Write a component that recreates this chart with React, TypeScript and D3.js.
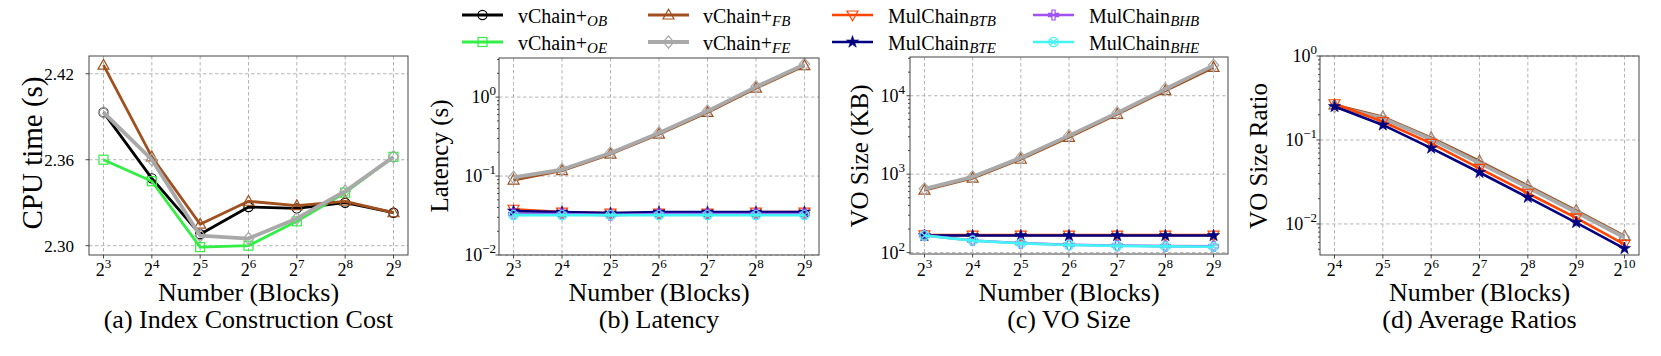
import React from 'react';
import * as d3 from 'd3';

const FONT = "'Liberation Serif','Times New Roman',Times,serif";

// x values (number of blocks)
const blocksABC = [8, 16, 32, 64, 128, 256, 512];
const blocksD = [16, 32, 64, 128, 256, 512, 1024];

// (a) index construction cost, CPU time (s)
const cpuOB = [2.393, 2.347, 2.308, 2.327, 2.326, 2.330, 2.323];
const cpuOE = [2.360, 2.345, 2.299, 2.300, 2.317, 2.337, 2.362];
const cpuFB = [2.426, 2.362, 2.315, 2.331, 2.328, 2.331, 2.323];
const cpuFE = [2.393, 2.360, 2.307, 2.305, 2.319, 2.338, 2.362];

// (b) latency (s)
const latFB = [0.089, 0.117, 0.190, 0.340, 0.640, 1.30, 2.50];
const latFE = [0.096, 0.121, 0.196, 0.352, 0.665, 1.35, 2.60];
const latBTB = [0.038, 0.035, 0.034, 0.034, 0.034, 0.035, 0.035];
const latBTE = [0.036, 0.035, 0.034, 0.035, 0.035, 0.035, 0.035];
const latBHB = [0.033, 0.033, 0.032, 0.033, 0.033, 0.033, 0.033];
const latBHE = [0.032, 0.032, 0.032, 0.032, 0.032, 0.032, 0.032];

// (c) VO size (KB)
const voFB = [625, 890, 1550, 2950, 5800, 11600, 23000];
const voFE = [650, 925, 1620, 3100, 6050, 12200, 24400];
const voBTB = [168, 167, 167, 167, 167, 167, 167];
const voBTE = [165, 165, 165, 165, 165, 165, 165];
const voBHB = [166, 143, 132, 126, 123, 121, 120];
const voBHE = [165, 142, 131, 125, 122, 120, 119];

// (d) average VO size ratio
const ratioFB = [0.262, 0.188, 0.106, 0.056, 0.0285, 0.0145, 0.0072];
const ratioFE = [0.250, 0.182, 0.102, 0.053, 0.0272, 0.0138, 0.0069];
const ratioBTB = [0.270, 0.165, 0.091, 0.046, 0.0232, 0.0118, 0.0057];
const ratioBTE = [0.250, 0.151, 0.080, 0.041, 0.0207, 0.0104, 0.0051];

const STYLE = {
  OB: { base: 'vChain+', sub: 'OB', color: '#000000', marker: 'circle', width: 2.8 },
  OE: { base: 'vChain+', sub: 'OE', color: '#33ee44', marker: 'square', width: 2.8 },
  FB: { base: 'vChain+', sub: 'FB', color: '#a0501e', marker: 'triup', width: 2.8 },
  FE: { base: 'vChain+', sub: 'FE', color: '#a9a9a9', marker: 'diamond', width: 3.8 },
  BTB: { base: 'MulChain', sub: 'BTB', color: '#ff4500', marker: 'tridown', width: 2.6 },
  BTE: { base: 'MulChain', sub: 'BTE', color: '#000080', marker: 'star', width: 2.6 },
  BHB: { base: 'MulChain', sub: 'BHB', color: '#a052f5', marker: 'plus', width: 2.6 },
  BHE: { base: 'MulChain', sub: 'BHE', color: '#44f4f4', marker: 'xcircle', width: 2.6 },
};

const legendOrder = [['OB', 'OE'], ['FB', 'FE'], ['BTB', 'BTE'], ['BHB', 'BHE']];
const legendCols = [{ l0: 462, l1: 503, t: 518 }, { l0: 648, l1: 689, t: 703 }, { l0: 832, l1: 873, t: 888 }, { l0: 1033, l1: 1074, t: 1089 }];

function Marker({ type, x, y, color }) {
  const sw = 1.2;
  switch (type) {
    case 'circle':
      return <circle cx={x} cy={y} r={4.6} fill="none" stroke={color} strokeWidth={sw} />;
    case 'square':
      return <rect x={x - 4.5} y={y - 4.5} width={9} height={9} fill="none" stroke={color} strokeWidth={sw} />;
    case 'triup':
      return <path d={`M${x},${y - 5.8}L${x + 5.5},${y + 4}L${x - 5.5},${y + 4}Z`} fill="none" stroke={color} strokeWidth={sw} />;
    case 'tridown':
      return <path d={`M${x},${y + 5.8}L${x + 5.5},${y - 4}L${x - 5.5},${y - 4}Z`} fill="none" stroke={color} strokeWidth={sw} />;
    case 'diamond':
      return <path d={`M${x},${y - 6.2}L${x + 5.2},${y}L${x},${y + 6.2}L${x - 5.2},${y}Z`} fill="none" stroke={color} strokeWidth={sw} />;
    case 'star':
      return <path d={d3.symbol(d3.symbolStar, 46)()} transform={`translate(${x},${y})`} fill={color} stroke={color} strokeWidth={0.6} />;
    case 'plus': {
      const a = 1.6, b = 5;
      const d = `M${x - a},${y - b}H${x + a}V${y - a}H${x + b}V${y + a}H${x + a}V${y + b}H${x - a}V${y + a}H${x - b}V${y - a}H${x - a}Z`;
      return <path d={d} fill="none" stroke={color} strokeWidth={sw} />;
    }
    case 'xcircle':
      return (
        <g fill="none" stroke={color} strokeWidth={sw}>
          <circle cx={x} cy={y} r={4.6} />
          <path d={`M${x - 3},${y - 3}L${x + 3},${y + 3}M${x + 3},${y - 3}L${x - 3},${y + 3}`} />
        </g>
      );
    default:
      return null;
  }
}

function Pow({ base, exp, size, supSize, rise }) {
  return (
    <>
      {base}
      <tspan dy={-rise} fontSize={supSize}>{exp}</tspan>
    </>
  );
}

function Panel({ p }) {
  const { x0, x1, y0, y1 } = p;
  const x = d3.scaleLog().base(2).domain([2 ** p.xLo, 2 ** p.xHi]).range([x0, x1]);
  const y = p.log
    ? d3.scaleLog().domain(p.yDomain).range([y1, y0])
    : d3.scaleLinear().domain(p.yDomain).range([y1, y0]);
  const line = d3.line().x((d) => x(d[0])).y((d) => y(d[1]));

  const minor = [];
  if (p.log) {
    const [lo, hi] = p.yDomain;
    for (let e = Math.floor(Math.log10(lo)); e <= Math.ceil(Math.log10(hi)); e++) {
      for (let k = 2; k <= 9; k++) {
        const v = k * 10 ** e;
        if (v >= lo && v <= hi) minor.push(v);
      }
    }
  }

  return (
    <g fontFamily={FONT}>
      {/* grid */}
      <g stroke="#b4b4b4" strokeWidth={1} strokeDasharray="3.5,2.5">
        {p.xTicks.map((t) => (
          <line key={'gx' + t} x1={x(2 ** t)} x2={x(2 ** t)} y1={y0} y2={y1} />
        ))}
        {p.yTicks.map((t) => (
          <line key={'gy' + t.v} x1={x0} x2={x1} y1={y(t.v)} y2={y(t.v)} />
        ))}
      </g>
      {/* series */}
      {p.series.map((s) => {
        const st = STYLE[s.key];
        const pts = p.xs.map((v, i) => [v, s.values[i]]);
        return (
          <g key={s.key}>
            <path d={line(pts)} fill="none" stroke={st.color} strokeWidth={st.width} strokeLinejoin="round" />
            {pts.map((d, i) => (
              <Marker key={i} type={st.marker} x={x(d[0])} y={y(d[1])} color={st.color} />
            ))}
          </g>
        );
      })}
      {/* frame */}
      <rect x={x0} y={y0} width={x1 - x0} height={y1 - y0} fill="none" stroke="#444" strokeWidth={1} />
      {/* ticks */}
      <g stroke="#333" strokeWidth={0.9}>
        {p.xTicks.map((t) => (
          <line key={'tx' + t} x1={x(2 ** t)} x2={x(2 ** t)} y1={y1} y2={y1 + 3.5} />
        ))}
        {p.yTicks.map((t) => (
          <line key={'ty' + t.v} x1={x0 - 3.5} x2={x0} y1={y(t.v)} y2={y(t.v)} />
        ))}
        {minor.map((v) => (
          <line key={'mt' + v} x1={x0 - 2} x2={x0} y1={y(v)} y2={y(v)} />
        ))}
      </g>
      {/* tick labels */}
      <g fill="#000">
        {p.xTicks.map((t) => (
          <text key={'lx' + t} x={x(2 ** t)} y={276} fontSize={18} textAnchor="middle">
            <Pow base="2" exp={String(t)} supSize={13} rise={8} />
          </text>
        ))}
        {p.yTicks.map((t) => (
          <text key={'ly' + t.v} x={x0 - p.tickGap} y={y(t.v)} dy="0.35em" fontSize={p.log ? 18 : 17} textAnchor="end">
            {p.log ? <Pow base="10" exp={t.exp} supSize={13} rise={8} /> : t.label}
          </text>
        ))}
      </g>
      {/* labels */}
      <text x={(x0 + x1) / 2} y={301} fontSize={26} textAnchor="middle">Number (Blocks)</text>
      <text x={(x0 + x1) / 2} y={328} fontSize={26} textAnchor="middle">{p.caption}</text>
      <text transform={`translate(${p.yLabelX},${p.yLabelY}) rotate(-90)`} fontSize={p.yLabelSize} textAnchor="middle">{p.yLabel}</text>
    </g>
  );
}

const panels = [
  {
    x0: 89, x1: 408, y0: 56, y1: 255, xLo: 2.7, xHi: 9.3, xTicks: [3, 4, 5, 6, 7, 8, 9], xs: blocksABC,
    log: false, yDomain: [2.2935, 2.4324],
    yTicks: [{ v: 2.30, label: '2.30' }, { v: 2.36, label: '2.36' }, { v: 2.42, label: '2.42' }],
    tickGap: 15, yLabel: 'CPU time (s)', yLabelX: 42, yLabelY: 153, yLabelSize: 29,
    caption: '(a) Index Construction Cost',
    series: [{ key: 'OB', values: cpuOB }, { key: 'OE', values: cpuOE }, { key: 'FB', values: cpuFB }, { key: 'FE', values: cpuFE }],
  },
  {
    x0: 499, x1: 819, y0: 58, y1: 255, xLo: 2.7, xHi: 9.3, xTicks: [3, 4, 5, 6, 7, 8, 9], xs: blocksABC,
    log: true, yDomain: [0.01, 3.13],
    yTicks: [{ v: 0.01, exp: '\u22122' }, { v: 0.1, exp: '\u22121' }, { v: 1, exp: '0' }],
    tickGap: 3, yLabel: 'Latency (s)', yLabelX: 448, yLabelY: 156, yLabelSize: 25,
    caption: '(b) Latency',
    series: [
      { key: 'FB', values: latFB }, { key: 'FE', values: latFE },
      { key: 'BTB', values: latBTB }, { key: 'BTE', values: latBTE },
      { key: 'BHB', values: latBHB }, { key: 'BHE', values: latBHE },
    ],
  },
  {
    x0: 910, x1: 1228, y0: 57, y1: 254, xLo: 2.7, xHi: 9.3, xTicks: [3, 4, 5, 6, 7, 8, 9], xs: blocksABC,
    log: true, yDomain: [96, 31200],
    yTicks: [{ v: 100, exp: '2' }, { v: 1000, exp: '3' }, { v: 10000, exp: '4' }],
    tickGap: 5, yLabel: 'VO Size (KB)', yLabelX: 868, yLabelY: 156, yLabelSize: 25,
    caption: '(c) VO Size',
    series: [
      { key: 'FB', values: voFB }, { key: 'FE', values: voFE },
      { key: 'BTB', values: voBTB }, { key: 'BTE', values: voBTE },
      { key: 'BHB', values: voBHB }, { key: 'BHE', values: voBHE },
    ],
  },
  {
    x0: 1320, x1: 1639, y0: 56, y1: 255, xLo: 3.7, xHi: 10.3, xTicks: [4, 5, 6, 7, 8, 9, 10], xs: blocksD,
    log: true, yDomain: [0.00427, 1],
    yTicks: [{ v: 0.01, exp: '\u22122' }, { v: 0.1, exp: '\u22121' }, { v: 1, exp: '0' }],
    tickGap: 3, yLabel: 'VO Size Ratio', yLabelX: 1267, yLabelY: 156, yLabelSize: 25,
    caption: '(d) Average Ratios',
    series: [
      { key: 'FB', values: ratioFB }, { key: 'FE', values: ratioFE },
      { key: 'BTB', values: ratioBTB }, { key: 'BTE', values: ratioBTE },
    ],
  },
];

function Legend() {
  const rows = [15, 42];
  return (
    <g fontFamily={FONT}>
      {legendOrder.map((col, ci) =>
        col.map((key, ri) => {
          const st = STYLE[key];
          const c = legendCols[ci];
          const ly = rows[ri];
          return (
            <g key={key}>
              <line x1={c.l0} x2={c.l1} y1={ly} y2={ly} stroke={st.color} strokeWidth={st.width} />
              <Marker type={st.marker} x={(c.l0 + c.l1) / 2} y={ly} color={st.color} />
              <text x={c.t} y={ly + 7.5} fontSize={20}>
                {st.base}
                <tspan dy={3} fontSize={15} fontStyle="italic">{st.sub}</tspan>
              </text>
            </g>
          );
        })
      )}
    </g>
  );
}

export default function App() {
  return (
    <svg width={1661} height={356} style={{ position: 'absolute', left: 0, top: 0, background: '#fff' }}>
      <rect width={1661} height={356} fill="#fff" />
      <Legend />
      {panels.map((p, i) => (
        <Panel key={i} p={p} />
      ))}
    </svg>
  );
}
